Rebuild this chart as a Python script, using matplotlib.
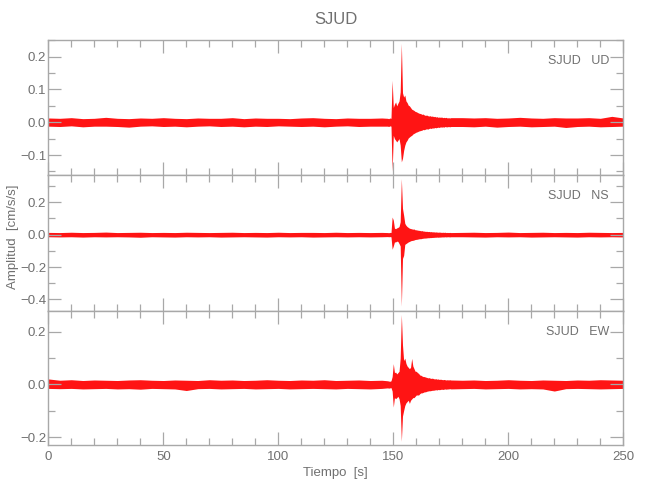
import numpy as np
import matplotlib
matplotlib.use("Agg")
import matplotlib.pyplot as plt
from matplotlib.ticker import MultipleLocator, FuncFormatter

plt.rcParams['font.family'] = ['Liberation Sans', 'DejaVu Sans']

# ---------------- data ----------------
title = "SJUD"
components = ["UD", "NS", "EW"]
station = "SJUD"
xlabel = "Tiempo  [s]"
ylabel = "Amplitud  [cm/s/s]"

# sample times: background noise every 5 s, event every 0.5 s
t_pre = np.arange(0, 146, 5)            # 0 .. 145
t_evt = np.arange(147.5, 175.01, 0.5)   # 147.5 .. 175
t_post = np.arange(180, 251, 5)         # 180 .. 250
times = np.concatenate([t_pre, t_evt, t_post])

# ---- UD ----
ud_pre_hi = [0.013, 0.012, 0.014, 0.011, 0.012, 0.015, 0.012, 0.011, 0.013, 0.012,
             0.014, 0.012, 0.011, 0.013, 0.012, 0.012, 0.014, 0.011, 0.013, 0.012,
             0.012, 0.011, 0.013, 0.014, 0.012, 0.011, 0.013, 0.012, 0.012, 0.013]
ud_pre_lo = [-0.012, -0.013, -0.011, -0.014, -0.012, -0.012, -0.013, -0.015, -0.012, -0.011,
             -0.013, -0.012, -0.014, -0.012, -0.011, -0.013, -0.012, -0.014, -0.012, -0.013,
             -0.011, -0.012, -0.013, -0.012, -0.014, -0.012, -0.011, -0.013, -0.012, -0.012]
ud_evt_hi = [0.012, 0.011, 0.013, 0.012, 0.128,
             0.045, 0.055, 0.062, 0.050, 0.058, 0.065, 0.093, 0.241, 0.090, 0.077,
             0.083, 0.065, 0.060, 0.052, 0.050, 0.045, 0.040, 0.038, 0.036, 0.033,
             0.032, 0.030, 0.028, 0.027, 0.026, 0.024, 0.025, 0.022, 0.021, 0.022,
             0.020, 0.019, 0.020, 0.018, 0.019, 0.017, 0.018, 0.016, 0.017, 0.015,
             0.016, 0.015, 0.016, 0.014, 0.015, 0.014, 0.015, 0.013, 0.014, 0.013, 0.014]
ud_evt_lo = [-0.012, -0.013, -0.011, -0.012, -0.149,
             -0.040, -0.050, -0.055, -0.060, -0.055, -0.050, -0.070, -0.121, -0.110, -0.086,
             -0.070, -0.060, -0.055, -0.048, -0.045, -0.042, -0.040, -0.036, -0.034, -0.032,
             -0.030, -0.029, -0.027, -0.026, -0.025, -0.024, -0.022, -0.023, -0.021, -0.020,
             -0.021, -0.019, -0.018, -0.019, -0.017, -0.018, -0.016, -0.017, -0.016, -0.015,
             -0.016, -0.014, -0.015, -0.014, -0.015, -0.013, -0.014, -0.014, -0.013, -0.014, -0.013]
ud_post_hi = [0.014, 0.013, 0.014, 0.012, 0.013, 0.015, 0.013, 0.012, 0.014, 0.013,
              0.013, 0.014, 0.012, 0.018, 0.013]
ud_post_lo = [-0.013, -0.014, -0.012, -0.015, -0.013, -0.012, -0.014, -0.013, -0.012, -0.016,
              -0.013, -0.012, -0.014, -0.013, -0.012]

# ---- NS ----
ns_pre_hi = [0.014, 0.013, 0.015, 0.013, 0.014, 0.016, 0.013, 0.014, 0.015, 0.013,
             0.014, 0.013, 0.015, 0.014, 0.013, 0.014, 0.015, 0.013, 0.014, 0.013,
             0.015, 0.013, 0.014, 0.014, 0.013, 0.015, 0.013, 0.014, 0.013, 0.014]
ns_pre_lo = [-0.013, -0.014, -0.013, -0.015, -0.013, -0.014, -0.013, -0.014, -0.016, -0.013,
             -0.014, -0.015, -0.013, -0.014, -0.013, -0.015, -0.014, -0.013, -0.014, -0.015,
             -0.013, -0.014, -0.013, -0.015, -0.014, -0.013, -0.014, -0.013, -0.014, -0.013]
ns_evt_hi = [0.013, 0.012, 0.014, 0.013, 0.109,
             0.090, 0.040, 0.037, 0.042, 0.045, 0.050, 0.080, 0.347, 0.163, 0.120,
             0.070, 0.058, 0.050, 0.045, 0.040, 0.038, 0.036, 0.034, 0.035, 0.030,
             0.030, 0.028, 0.027, 0.026, 0.024, 0.025, 0.022, 0.022, 0.020, 0.021,
             0.019, 0.020, 0.018, 0.019, 0.017, 0.018, 0.016, 0.017, 0.016, 0.015,
             0.016, 0.015, 0.014, 0.015, 0.014, 0.015, 0.013, 0.014, 0.013, 0.014, 0.013]
ns_evt_lo = [-0.012, -0.013, -0.012, -0.013, -0.090,
             -0.070, -0.045, -0.045, -0.040, -0.042, -0.055, -0.070, -0.442, -0.147, -0.128,
             -0.060, -0.055, -0.050, -0.045, -0.042, -0.038, -0.036, -0.035, -0.033, -0.030,
             -0.029, -0.028, -0.026, -0.025, -0.025, -0.023, -0.022, -0.021, -0.021, -0.020,
             -0.019, -0.019, -0.018, -0.018, -0.017, -0.017, -0.016, -0.016, -0.015, -0.016,
             -0.015, -0.015, -0.014, -0.014, -0.014, -0.013, -0.014, -0.013, -0.013, -0.014, -0.013]
ns_post_hi = [0.014, 0.015, 0.013, 0.014, 0.016, 0.013, 0.014, 0.015, 0.013, 0.014,
              0.013, 0.015, 0.014, 0.013, 0.014]
ns_post_lo = [-0.013, -0.014, -0.015, -0.013, -0.014, -0.013, -0.015, -0.014, -0.013, -0.014,
              -0.015, -0.013, -0.014, -0.013, -0.014]

# ---- EW ----
ew_pre_hi = [0.021, 0.016, 0.018, 0.015, 0.017, 0.016, 0.015, 0.017, 0.018, 0.016,
             0.015, 0.017, 0.016, 0.015, 0.018, 0.016, 0.017, 0.015, 0.016, 0.018,
             0.016, 0.015, 0.017, 0.016, 0.018, 0.015, 0.016, 0.017, 0.015, 0.016]
ew_pre_lo = [-0.015, -0.016, -0.015, -0.017, -0.016, -0.015, -0.017, -0.016, -0.018, -0.015,
             -0.016, -0.017, -0.023, -0.016, -0.015, -0.017, -0.016, -0.015, -0.017, -0.016,
             -0.015, -0.017, -0.016, -0.015, -0.016, -0.017, -0.015, -0.016, -0.017, -0.015]
ew_evt_hi = [0.014, 0.013, 0.012, 0.014, 0.030,
             0.079, 0.045, 0.047, 0.040, 0.045, 0.050, 0.100, 0.266, 0.150, 0.091,
             0.100, 0.080, 0.070, 0.065, 0.060, 0.065, 0.099, 0.070, 0.060, 0.050,
             0.050, 0.045, 0.042, 0.036, 0.035, 0.032, 0.030, 0.030, 0.028, 0.027,
             0.025, 0.026, 0.024, 0.023, 0.024, 0.022, 0.021, 0.022, 0.020, 0.021,
             0.019, 0.020, 0.019, 0.018, 0.019, 0.018, 0.017, 0.018, 0.017, 0.018, 0.017]
ew_evt_lo = [-0.013, -0.014, -0.013, -0.012, -0.025,
             -0.086, -0.050, -0.054, -0.050, -0.045, -0.054, -0.080, -0.216, -0.120, -0.099,
             -0.080, -0.070, -0.065, -0.060, -0.072, -0.060, -0.055, -0.050, -0.050, -0.045,
             -0.040, -0.040, -0.040, -0.035, -0.032, -0.032, -0.030, -0.028, -0.028, -0.026,
             -0.025, -0.024, -0.024, -0.023, -0.022, -0.022, -0.021, -0.020, -0.021, -0.019,
             -0.020, -0.019, -0.018, -0.019, -0.018, -0.017, -0.018, -0.017, -0.017, -0.016, -0.017]
ew_post_hi = [0.016, 0.017, 0.015, 0.016, 0.018, 0.016, 0.015, 0.017, 0.016, 0.015,
              0.017, 0.016, 0.018, 0.017, 0.016]
ew_post_lo = [-0.016, -0.015, -0.017, -0.016, -0.015, -0.017, -0.016, -0.017, -0.025, -0.016,
              -0.015, -0.016, -0.017, -0.016, -0.015]

upper = {
    "UD": ud_pre_hi + ud_evt_hi + ud_post_hi,
    "NS": ns_pre_hi + ns_evt_hi + ns_post_hi,
    "EW": ew_pre_hi + ew_evt_hi + ew_post_hi,
}
lower = {
    "UD": ud_pre_lo + ud_evt_lo + ud_post_lo,
    "NS": ns_pre_lo + ns_evt_lo + ns_post_lo,
    "EW": ew_pre_lo + ew_evt_lo + ew_post_lo,
}

ylims = {"UD": (-0.161, 0.251), "NS": (-0.469, 0.369), "EW": (-0.23, 0.281)}
ymajor = {"UD": 0.1, "NS": 0.2, "EW": 0.2}
yminor = {"UD": 0.05, "NS": 0.1, "EW": 0.1}
xlim = (0, 250)

# ---------------- drawing ----------------
axis_col = "#a8a8a8"
text_col = "#707070"
trace_col = "#ff0000"

fig = plt.figure(figsize=(6.5, 5.0), dpi=100)
left, width = 48.3 / 650, 575 / 650
panel_px = [(40, 175), (175, 310.5), (310.5, 445)]


def fmt(v, p):
    return ("\u2212" if v < -1e-9 else "") + f"{abs(v):.1f}"


for i, comp in enumerate(components):
    top_px, bot_px = panel_px[i]
    ax = fig.add_axes([left, 1 - bot_px / 500, width, (bot_px - top_px) / 500])
    ax.fill_between(times, lower[comp], upper[comp], color=trace_col,
                    linewidth=0, alpha=0.92)
    ax.set_xlim(*xlim)
    ax.set_ylim(*ylims[comp])
    ax.xaxis.set_major_locator(MultipleLocator(50))
    ax.xaxis.set_minor_locator(MultipleLocator(10))
    ax.yaxis.set_major_locator(MultipleLocator(ymajor[comp]))
    ax.yaxis.set_minor_locator(MultipleLocator(yminor[comp]))
    ax.tick_params(which='both', direction='in', top=True, right=True,
                   color=axis_col, labelcolor=text_col, labelsize=9.5, width=0.9)
    ax.tick_params(which='major', length=9.5)
    ax.tick_params(which='minor', length=5)
    ax.tick_params(axis='y', pad=1.5)
    ax.tick_params(axis='x', pad=4)
    for s in ax.spines.values():
        s.set_color(axis_col)
        s.set_linewidth(1.0)
    ax.yaxis.set_major_formatter(FuncFormatter(fmt))
    if i < 2:
        ax.tick_params(axis='x', labelbottom=False)
    else:
        ax.set_xlabel(xlabel, color=text_col, fontsize=9.5, labelpad=3)
    ax.text(0.975, 0.842, f"{station}   {comp}", transform=ax.transAxes,
            ha='right', va='center', color=text_col, fontsize=9)

fig.text(335.5 / 650, 1 - 20 / 500, title, ha='center', va='center',
         color=text_col, fontsize=12)
fig.text(13 / 650, 1 - 237 / 500, ylabel, rotation=90, ha='center', va='center',
         color=text_col, fontsize=9.5)

fig.savefig("out.png", dpi=100)
